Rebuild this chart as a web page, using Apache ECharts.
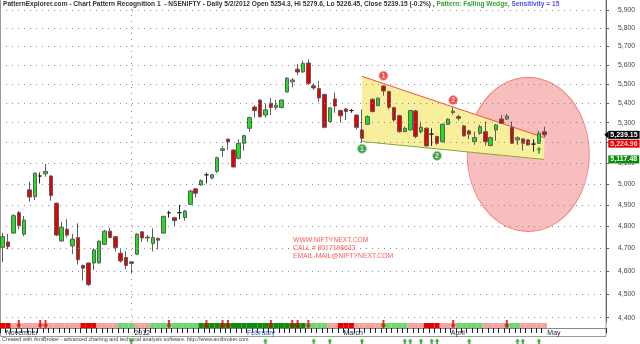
<!DOCTYPE html>
<html><head><meta charset="utf-8">
<script src="https://cdn.jsdelivr.net/npm/echarts@6/dist/echarts.min.js"></script>
<style>html,body{margin:0;padding:0;background:#fff}#c{width:640px;height:344px}</style>
</head><body><div id="c"></div>
<script>
// ---- data ----
const opens = [4706,4730,4770,4864,4765,4971,4939,5037,5048,5037,
4908,4734,4788,4712,4750,4625,4636,4636,4636,4719,
4779,4754,4679,4660,4641,4675,4776,4748,4723,4746,
4770,4863,4841,4864,4841,4903,4976,4994,5043,5028,
5060,5162,5218,5164,5123,5197,5272,5380,5416,5339,
5400,5378,5378,5458,5511,5578,5563,5611,5490,5476,
5445,5306,5422,5362,5370,5362,5339,5264,5292,5420,
5387,5489,5460,5377,5336,5255,5264,5360,5255,5272,
5243,5231,5205,5292,5352,5331,5284,5259,5205,5247,
5255,5186,5264,5319,5319,5277,5214,5219,5214,5193,
5197,5254.3];
const closes = [4754,4709,4850,4803,4830,4937,5051,5037,5059,4944,
4761,4797,4761,4743,4650,4613,4541,4694,4734,4779,
4750,4704,4645,4625,4634,4765,4748,4752,4750,4738,
4847,4863,4827,4864,4872,4966,4955,5015,5043,5043,
5126,5170,5204,5081,5197,5235,5326,5362,5330,5366,
5378,5390,5416,5530,5521,5563,5609,5503,5479,5427,
5277,5376,5385,5335,5357,5362,5277,5222,5331,5357,
5425,5463,5379,5314,5255,5272,5362,5231,5277,5184,
5243,5197,5292,5318,5359,5323,5234,5243,5225,5280,
5205,5225,5289,5297,5334,5197,5225,5197,5189,5193,
5247,5239.15];
const lows = [4640,4697,4766,4788,4756,4916,4923,5002,5034,4920,
4756,4731,4750,4675,4629,4559,4536,4605,4633,4716,
4746,4687,4638,4609,4588,4672,4731,4731,4687,4697,
4766,4841,4803,4834,4827,4900,4935,4991,5002,5021,
5052,5131,5164,5078,5118,5160,5255,5327,5327,5326,
5339,5366,5373,5455,5482,5546,5559,5494,5469,5408,
5272,5302,5351,5301,5314,5351,5267,5200,5289,5352,
5385,5439,5368,5306,5250,5253,5261,5222,5247,5181,
5184,5189,5200,5289,5340,5311,5231,5218,5189,5239,
5186,5183,5210,5294,5314,5194,5189,5161,5186,5156,
5194,5226.45];
const highs = [4772,4766,4857,4872,4849,5010,5054,5054,5096,5042,
4911,4822,4834,4766,4815,4629,4638,4701,4735,4784,
4795,4756,4697,4687,4642,4770,4779,4761,4792,4750,
4849,4873,4845,4900,4877,4971,4979,5021,5054,5048,
5131,5183,5219,5168,5218,5240,5331,5389,5419,5398,
5427,5416,5420,5536,5530,5605,5624,5630,5503,5516,
5450,5379,5455,5366,5375,5370,5343,5368,5338,5425,
5430,5494,5465,5382,5340,5280,5366,5366,5306,5277,
5272,5234,5297,5323,5379,5340,5289,5264,5255,5289,
5306,5231,5294,5340,5344,5306,5231,5222,5217,5217,
5259,5279.6];

const totalSlots = 113;                 // bars + empty space on the right
const monthLabels = ['November','2012','February','March','April','May'];
const monthStarts = [0,24,45,63,83,101];
const yearBreak = 24;
const yTicks = [4400,4500,4600,4700,4800,4900,5000,5100,5200,5300,5400,5500,5600,5700,5800,5900];

// trend ribbon state per bar: 0 red, 1 pink, 2 light green, 3 dark green
const ribbon = [0,0, 1,1,1,1,1,1,1,1,1,1,1,1,1, 0,0,0, 1,1,1,1, 2,2,2, 1,1,1,
2,2,2,2,2,2,2,2,2, 3,3,3,3,3,3,3,3,3,3,3,3,3,3,3,3,3,3,3,3, 2,2,2,2, 1,1, 0,0,0,
1,1,1,1,1, 2,2,2,2,2, 1,1,1, 0,0,0, 1,1,1, 2,2,2,2,2, 1,1,1,1, 2,2,2, 1,1,1,1,1];
const sellSignals = [3,7,8,31,38,41,42,50,54,55,57,71,84,94];
const buySignals = [24,49,58,61,67,75,76,78,80,81,87,96,97,100];

// falling wedge
const wedgeBars = [67, 101];
const wedgeUpper = [5540, 5224.96];
const wedgeLower = [5206, 5117.48];
const pivotHighs = [[71, 5543, '1'], [84, 5416, '2']];
const pivotLows = [[67, 5170, '1'], [81, 5135, '2']];
const breakoutArrow = [[100, 5164]];
const targetZone = [[98, 5142]];
const lastClose = 5239.15;

// ---- build ----
const categories = Array.from({length: totalSlots}, (_, i) => 'd' + i);
const monthMap = {};
monthStarts.forEach((s, k) => { monthMap['d' + s] = monthLabels[k]; });
const candles = opens.map((o, i) => [o, closes[i], lows[i], highs[i]]);
const ribbonColors = ['#e60000', '#f4a3a3', '#6ed86e', '#0b8c0b'];
const fmtInt = v => { const s = String(Math.round(v)); return s.slice(0, -3) + ',' + s.slice(-3); };
const fmt2 = v => { const p = v.toFixed(2).split('.'); return fmtInt(+p[0]) + '.' + p[1]; };
const FONT = 'Liberation Sans, Arial, sans-serif';
const upArrow = 'path://M5 0L10 5L7 5L7 10L3 10L3 5L0 5Z';

const chart = echarts.init(document.getElementById('c'));
chart.setOption({
  animation: false,
  backgroundColor: '#fff',
  textStyle: { fontFamily: FONT },
  title: [
    { left: 3, top: 1, padding: 0,
      text: '{a|PatternExplorer.com - Chart Pattern Recognition 1  - NSENIFTY - Daily 5/2/2012 Open 5254.3, Hi 5279.6, Lo 5226.45, Close 5239.15 (-0.2%) , }{g|Pattern: Falling Wedge, }{b|Sensitivity = 15}',
      textStyle: { rich: {
        a: { fontSize: 6.6, color: '#333', fontFamily: FONT },
        g: { fontSize: 6.6, color: '#33a033', fontFamily: FONT },
        b: { fontSize: 6.6, color: '#5050f0', fontFamily: FONT } } } },
    { left: 293, top: 236, padding: 0,
      text: 'WWW.NIFTYNEXT.COM\nCALL # 8017198633\nEMAIL-MAIL@NIFTYNEXT.COM',
      textStyle: { fontSize: 6.8, color: '#ff5a5a', fontWeight: 'normal', lineHeight: 8.2, fontFamily: FONT } },
    { left: 2, top: 337, padding: 0,
      text: 'Created with AmiBroker - advanced charting and technical analysis software. http://www.amibroker.com',
      textStyle: { fontSize: 5.4, color: '#444', fontWeight: 'normal', fontFamily: FONT } }
  ],
  graphic: [{ type: 'rect', silent: true, z: -10,
    shape: { x: 0.5, y: -2, width: 605.5, height: 338.5 },
    style: { fill: 'none', stroke: '#9a9a9a', lineWidth: 1 } }],
  grid: [
    { left: 0, top: 0, width: 606, height: 322 },
    { left: 0, top: 323, width: 606, height: 5 }
  ],
  xAxis: [
    { type: 'category', gridIndex: 0, data: categories, show: false },
    { type: 'category', gridIndex: 1, data: categories, position: 'bottom',
      axisLine: { onZero: false, lineStyle: { color: '#888', width: 1 } },
      axisTick: { show: true, length: 5, lineStyle: { color: '#222' }, interval: i => i <= 101 },
      axisLabel: { interval: i => monthStarts.indexOf(i) >= 0, formatter: v => monthMap[v] || '',
        align: 'left', padding: [0, 0, 0, 3], margin: 2, fontSize: 7,
        color: (v) => v === 'd45' ? '#2a62a8' : '#1c1c30', fontFamily: FONT },
      splitLine: { show: false } }
  ],
  yAxis: [
    { type: 'log', logBase: 10, gridIndex: 0, position: 'right', min: 4381.9, max: 5958.9,
      axisLine: { show: true, lineStyle: { color: '#666' } },
      axisTick: { show: true, length: 3, customValues: yTicks, lineStyle: { color: '#555' } },
      axisLabel: { customValues: yTicks, formatter: v => fmtInt(v), margin: 12, fontSize: 6.8, color: '#444', fontFamily: FONT },
      splitLine: { show: false } },
    { type: 'value', gridIndex: 1, min: 0, max: 1, show: false, splitLine: { show: false } }
  ],
  series: [
    { type: 'scatter', name: 'target', z: 1, silent: true, clip: false,
      data: targetZone, symbol: 'circle', symbolSize: [122, 154],
      itemStyle: { color: '#f8bdbd', borderColor: '#f07a7a', borderWidth: 1, opacity: 1 } },
    { type: 'custom', name: 'wedge', z: 2, silent: true,
      data: [[wedgeBars[0], wedgeUpper[0], wedgeLower[0], wedgeBars[1], wedgeUpper[1], wedgeLower[1]]],
      encode: { x: [0, 3], y: [1, 2, 4, 5] },
      renderItem: function (params, api) {
        const a = api.coord([api.value(0), api.value(1)]);
        const b = api.coord([api.value(3), api.value(4)]);
        const c = api.coord([api.value(3), api.value(5)]);
        const d = api.coord([api.value(0), api.value(2)]);
        return { type: 'group', children: [
          { type: 'polygon', shape: { points: [a, b, c, d] }, style: { fill: '#f8ef9c' } },
          { type: 'line', shape: { x1: a[0], y1: a[1], x2: b[0], y2: b[1] }, style: { stroke: '#ff4a3a', lineWidth: 1 } },
          { type: 'line', shape: { x1: d[0], y1: d[1], x2: c[0], y2: c[1] }, style: { stroke: '#86a83a', lineWidth: 1 } }
        ] };
      } },
    { type: 'line', name: 'grid', z: 3, data: [], silent: true,
      markLine: { silent: true, symbol: 'none', label: { show: false },
        lineStyle: { color: '#8a8a8a', type: [1, 5], width: 1 },
        data: yTicks.map(v => ({ yAxis: v })).concat([{ xAxis: yearBreak }]) } },
    { type: 'candlestick', name: 'NSENIFTY', z: 4, data: candles, barWidth: 4,
      itemStyle: { color: '#1ee01e', color0: '#e80000', borderColor: '#5c5c5c', borderColor0: '#5c5c5c',
        borderColorDoji: '#222', borderWidth: 1 } },
    { type: 'scatter', name: 'pivotHigh', z: 6, silent: true, data: pivotHighs, symbol: 'circle', symbolSize: 9,
      itemStyle: { color: '#ee2020', borderColor: '#ffb0b0', borderWidth: 0.8 },
      label: { show: true, position: 'inside', formatter: p => p.data[2], color: '#fff', fontSize: 7, fontWeight: 'bold' } },
    { type: 'scatter', name: 'pivotLow', z: 6, silent: true, data: pivotLows, symbol: 'circle', symbolSize: 9,
      itemStyle: { color: '#168a16', borderColor: '#a0d8a0', borderWidth: 0.8 },
      label: { show: true, position: 'inside', formatter: p => p.data[2], color: '#fff', fontSize: 7, fontWeight: 'bold' } },
    { type: 'scatter', name: 'breakout', z: 6, silent: true, data: breakoutArrow, symbol: upArrow, symbolSize: [5, 7],
      itemStyle: { color: '#139c13' } },
    { type: 'line', name: 'levels', z: 7, data: [], silent: true,
      markPoint: { silent: true, symbol: 'path://M0 5L5 0L5 10Z', symbolSize: [4, 7], symbolOffset: [3, 0],
        label: { show: true, position: 'right', distance: 0, fontSize: 7, fontWeight: 'bold', color: '#fff',
          padding: [1, 2, 0, 2], formatter: p => fmt2(p.value), fontFamily: FONT },
        data: [
          { coord: ['d112', lastClose], value: lastClose, itemStyle: { color: '#000' }, label: { backgroundColor: '#000' } },
          { coord: ['d112', wedgeUpper[1]], value: wedgeUpper[1], itemStyle: { color: 'rgba(0,0,0,0)' }, label: { backgroundColor: '#e60000', color: '#ffd0d0', offset: [0, 6] } },
          { coord: ['d112', wedgeLower[1]], value: wedgeLower[1], itemStyle: { color: 'rgba(0,0,0,0)' }, label: { backgroundColor: '#0a8a0a' } }
        ] } },
    { type: 'bar', name: 'ribbon', xAxisIndex: 1, yAxisIndex: 1, silent: true, barCategoryGap: '0%',
      data: ribbon.map(c => ({ value: 1, itemStyle: { color: ribbonColors[c] } })) },
    { type: 'scatter', name: 'sell', xAxisIndex: 1, yAxisIndex: 1, z: 5, silent: true, clip: false,
      data: sellSignals.map(i => [i, 0.7]), symbol: upArrow, symbolRotate: 180, symbolSize: [5, 9],
      itemStyle: { color: '#e00000' } },
    { type: 'scatter', name: 'buy', xAxisIndex: 1, yAxisIndex: 1, z: 5, silent: true, clip: false,
      data: buySignals.map(i => [i, -2.7]), symbol: upArrow, symbolSize: [5, 6],
      itemStyle: { color: '#1a9a1a' } }
  ]
});
</script></body></html>
